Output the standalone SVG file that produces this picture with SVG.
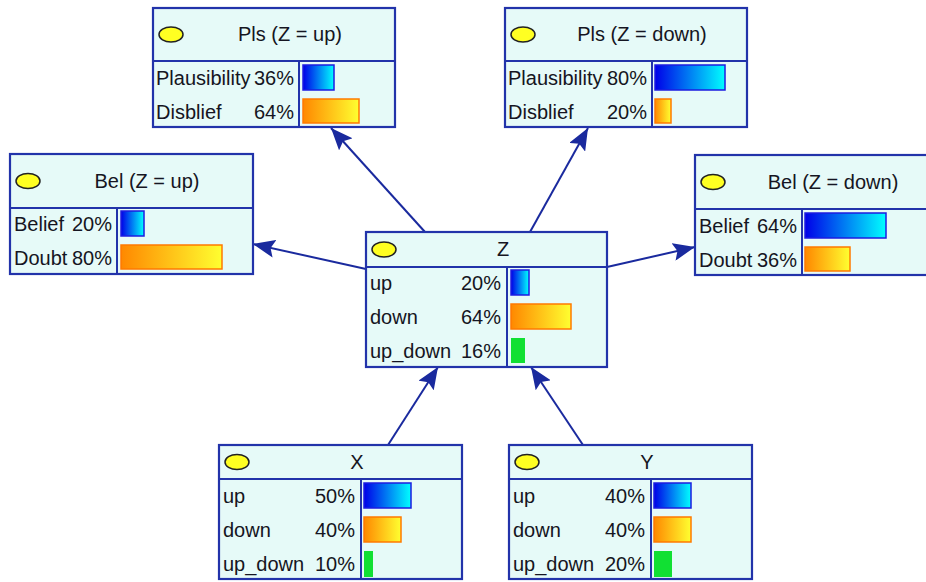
<svg xmlns="http://www.w3.org/2000/svg" width="926" height="582" viewBox="0 0 926 582">
<defs>
<linearGradient id="gb" x1="0" y1="0" x2="1" y2="0"><stop offset="0" stop-color="#0000E8"/><stop offset="1" stop-color="#00FFFF"/></linearGradient>
<linearGradient id="go" x1="0" y1="0" x2="1" y2="0"><stop offset="0" stop-color="#FF8800"/><stop offset="1" stop-color="#FFFF30"/></linearGradient>
<marker id="ah" markerUnits="userSpaceOnUse" markerWidth="24" markerHeight="18" refX="22" refY="9" orient="auto"><path d="M0,0 L22,9 L0,18 L4,9 z" fill="#1A2A9E"/></marker>
<style>
.box{fill:#E6FAF8;stroke:#2233AA;stroke-width:2.2}
.ln{stroke:#2233AA;stroke-width:2}
.t{font-family:"Liberation Sans",Arial,sans-serif;font-size:20px;fill:#151522}
.r{text-anchor:end}
.c{text-anchor:middle}
.el{fill:#FFFF22;stroke:#222;stroke-width:1.5}
.bb{fill:url(#gb);stroke:#1C1CE0;stroke-width:1.5}
.bo{fill:url(#go);stroke:#FF7A00;stroke-width:1.5}
.bg{fill:#11E033}
.cn{stroke:#1A2A9E;stroke-width:2;fill:none;marker-end:url(#ah)}
</style>
</defs>
<g id="connectors">
<line class="cn" x1="425" y1="232" x2="331" y2="128"/>
<line class="cn" x1="530" y1="232" x2="588" y2="128"/>
<line class="cn" x1="366" y1="269" x2="253" y2="244"/>
<line class="cn" x1="607" y1="267" x2="695" y2="247"/>
<line class="cn" x1="388" y1="445" x2="438" y2="367"/>
<line class="cn" x1="583" y1="445" x2="531" y2="367"/>
</g>
<g id="pls_up">
<rect class="box" x="153" y="8" width="242" height="119"/>
<line class="ln" x1="153" y1="61" x2="395" y2="61"/>
<line class="ln" x1="299" y1="61" x2="299" y2="127"/>
<ellipse class="el" cx="171" cy="34.5" rx="12" ry="7.5"/>
<text class="t c" x="290" y="41">Pls (Z = up)</text>
<text class="t" x="156" y="85">Plausibility</text><text class="t r" x="294" y="85">36%</text>
<text class="t" x="156" y="119">Disblief</text><text class="t r" x="294" y="119">64%</text>
<rect class="bb" x="303" y="65" width="31" height="25"/>
<rect class="bo" x="303" y="99" width="56" height="24"/>
</g>
<g id="pls_down">
<rect class="box" x="505" y="8" width="242" height="119"/>
<line class="ln" x1="505" y1="61" x2="747" y2="61"/>
<line class="ln" x1="652" y1="61" x2="652" y2="127"/>
<ellipse class="el" cx="523" cy="34.5" rx="12" ry="7.5"/>
<text class="t c" x="642" y="41">Pls (Z = down)</text>
<text class="t" x="508" y="85">Plausibility</text><text class="t r" x="647" y="85">80%</text>
<text class="t" x="508" y="119">Disblief</text><text class="t r" x="647" y="119">20%</text>
<rect class="bb" x="655" y="65" width="70" height="25"/>
<rect class="bo" x="655" y="99" width="16" height="24"/>
</g>
<g id="bel_up">
<rect class="box" x="10" y="154" width="243" height="120"/>
<line class="ln" x1="10" y1="208" x2="253" y2="208"/>
<line class="ln" x1="117" y1="208" x2="117" y2="274"/>
<ellipse class="el" cx="28" cy="181" rx="12" ry="7.5"/>
<text class="t c" x="147" y="188">Bel (Z = up)</text>
<text class="t" x="14" y="231">Belief</text><text class="t r" x="112" y="231">20%</text>
<text class="t" x="14" y="265">Doubt</text><text class="t r" x="112" y="265">80%</text>
<rect class="bb" x="121" y="211" width="23" height="25"/>
<rect class="bo" x="121" y="245" width="101" height="24"/>
</g>
<g id="bel_down">
<rect class="box" x="695" y="155" width="243" height="120"/>
<line class="ln" x1="695" y1="209" x2="938" y2="209"/>
<line class="ln" x1="802" y1="209" x2="802" y2="275"/>
<ellipse class="el" cx="713" cy="182" rx="12" ry="7.5"/>
<text class="t c" x="833" y="189">Bel (Z = down)</text>
<text class="t" x="699" y="233">Belief</text><text class="t r" x="797" y="233">64%</text>
<text class="t" x="699" y="267">Doubt</text><text class="t r" x="797" y="267">36%</text>
<rect class="bb" x="805" y="213" width="81" height="25"/>
<rect class="bo" x="805" y="247" width="45" height="24"/>
</g>
<g id="z">
<rect class="box" x="366" y="232" width="241" height="135"/>
<line class="ln" x1="366" y1="267" x2="607" y2="267"/>
<line class="ln" x1="507" y1="267" x2="507" y2="367"/>
<ellipse class="el" cx="384" cy="249.5" rx="12" ry="7.5"/>
<text class="t c" x="503" y="256">Z</text>
<text class="t" x="370" y="290">up</text><text class="t r" x="501" y="290">20%</text>
<text class="t" x="370" y="324">down</text><text class="t r" x="501" y="324">64%</text>
<text class="t" x="370" y="358">up_down</text><text class="t r" x="501" y="358">16%</text>
<rect class="bb" x="511" y="270" width="18" height="25"/>
<rect class="bo" x="511" y="304" width="60" height="25"/>
<rect class="bg" x="511" y="338" width="14" height="25"/>
</g>
<g id="x">
<rect class="box" x="219" y="445" width="243" height="134"/>
<line class="ln" x1="219" y1="479" x2="462" y2="479"/>
<line class="ln" x1="361" y1="479" x2="361" y2="579"/>
<ellipse class="el" cx="237" cy="462" rx="12" ry="7.5"/>
<text class="t c" x="357" y="469">X</text>
<text class="t" x="223" y="503">up</text><text class="t r" x="355" y="503">50%</text>
<text class="t" x="223" y="537">down</text><text class="t r" x="355" y="537">40%</text>
<text class="t" x="223" y="571">up_down</text><text class="t r" x="355" y="571">10%</text>
<rect class="bb" x="364" y="483" width="47" height="25"/>
<rect class="bo" x="364" y="517" width="37" height="25"/>
<rect class="bg" x="364" y="551" width="9" height="26"/>
</g>
<g id="y">
<rect class="box" x="509" y="445" width="243" height="134"/>
<line class="ln" x1="509" y1="479" x2="752" y2="479"/>
<line class="ln" x1="651" y1="479" x2="651" y2="579"/>
<ellipse class="el" cx="527" cy="462" rx="12" ry="7.5"/>
<text class="t c" x="647" y="469">Y</text>
<text class="t" x="513" y="503">up</text><text class="t r" x="645" y="503">40%</text>
<text class="t" x="513" y="537">down</text><text class="t r" x="645" y="537">40%</text>
<text class="t" x="513" y="571">up_down</text><text class="t r" x="645" y="571">20%</text>
<rect class="bb" x="654" y="483" width="37" height="25"/>
<rect class="bo" x="654" y="517" width="37" height="25"/>
<rect class="bg" x="654" y="551" width="18" height="26"/>
</g>
</svg>
